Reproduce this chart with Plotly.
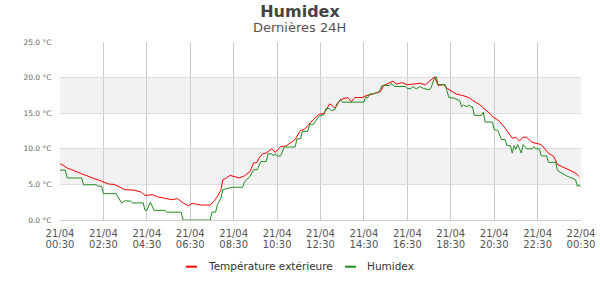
import plotly.graph_objects as go
import pandas as pd

# Température extérieure (time, °C)
temp_times = ["00:30","00:35","00:50","01:00","01:20","01:40","02:00","02:15","02:30","02:45",
              "03:00","03:15","03:30","03:55","04:15","04:25","04:45","05:00","05:20","05:40",
              "05:55","06:10","06:25","06:35","06:45","07:00","07:25","07:35","07:45","07:55",
              "08:00","08:10","08:20","08:35","08:45","09:00","09:15","09:25","09:35","09:40",
              "09:50","10:00","10:15","10:25","10:40","10:55","11:10","11:20","11:30","11:35",
              "11:45","12:00","12:10","12:25","12:40","12:55","13:00","13:10","13:25","13:45",
              "13:55","14:05","14:25","14:35","14:50","15:05","15:15","15:25","15:35","15:50",
              "16:00","16:15","16:30","16:45","17:05","17:20","17:30","17:45","17:55","18:10",
              "18:20","18:30","18:45","19:05","19:20","19:30","19:50","20:10","20:20","20:25",
              "20:45","21:00","21:15","21:20","21:30","21:40","21:50","22:00","22:15","22:30",
              "22:40","23:00","23:15","23:25","23:40","+00:00","+00:15","+00:25"]
temp_values = [7.9,7.8,7.3,7.1,6.7,6.2,5.9,5.65,5.3,5.05,
               5.0,4.6,4.25,4.2,3.9,3.45,3.55,3.25,3.1,2.85,
               3.0,2.4,2.0,2.3,2.25,2.1,2.1,2.6,3.3,4.25,
               5.66,5.9,6.27,6.1,5.9,6.2,6.8,8.0,8.1,8.7,
               9.3,9.4,10.0,9.5,10.3,10.4,11.0,11.3,12.2,12.6,
               12.7,13.6,14.1,14.8,15.0,16.3,16.2,15.7,16.9,17.2,
               16.6,17.2,17.2,17.45,17.6,17.9,18.0,18.9,19.1,19.5,
               19.1,19.3,19.0,19.1,19.2,19.0,19.4,20.1,18.9,19.0,
               18.5,18.2,17.7,17.45,17.2,16.8,16.2,15.3,14.9,14.55,
               13.85,12.9,11.9,11.5,11.6,11.1,11.65,11.6,10.9,10.7,
               10.6,9.4,8.9,7.8,7.45,7.06,6.6,6.1]

# Humidex (time, °C)
hum_times = ["00:30","00:45","00:50","01:30","01:35","02:10","02:15","02:25","02:30","03:05",
             "03:20","03:30","03:45","03:50","04:20","04:25","04:30","04:40","04:50","05:20",
             "05:25","06:05","06:10","07:25","07:30","07:40","07:45","07:55","08:00","08:10",
             "08:25","08:55","09:00","09:15","09:25","09:35","09:45","10:00","10:05","10:15",
             "10:20","10:25","10:30","10:40","10:50","11:20","11:25","11:35","11:40","11:55",
             "12:00","12:10","12:20","12:25","12:40","12:45","12:55","13:00","13:10","13:15",
             "13:25","13:30","14:30","14:35","14:40","14:45","14:55","15:10","15:15","15:20",
             "15:40","15:45","15:55","16:25","16:30","16:40","16:45","16:55","17:05","17:15",
             "17:30","17:35","17:45","17:50","17:55","18:15","18:20","18:25","18:40","18:55",
             "19:00","19:05","19:15","19:20","19:25","19:30","19:35","19:55","20:00","20:05",
             "20:25","20:30","20:40","20:50","21:00","21:05","21:15","21:20","21:25","21:30",
             "21:35","21:45","21:50","22:00","22:15","22:20","22:25","22:35","22:40","22:55",
             "23:00","23:20","23:25","23:35","23:50","+00:15","+00:20","+00:25","+00:28"]
hum_values = [7.0,7.0,5.9,5.9,4.95,4.95,4.75,4.75,3.7,3.7,
              2.4,2.7,2.65,2.4,2.4,1.35,1.35,2.5,1.35,1.35,
              1.1,1.1,0.0,0.0,1.1,1.1,2.15,3.1,4.25,4.4,
              4.6,4.6,5.4,6.1,7.07,7.07,8.2,8.2,9.3,9.3,
              9.0,9.3,9.0,9.0,10.25,10.25,11.4,11.4,12.45,12.45,
              13.5,13.4,14.3,14.55,14.8,15.65,15.65,15.35,15.5,16.3,
              16.9,16.55,16.55,17.35,17.1,17.7,17.7,17.9,18.3,18.9,
              18.9,19.15,18.75,18.75,18.45,18.45,18.75,18.4,18.75,18.45,
              18.3,18.5,19.95,20.1,19.0,19.0,18.05,17.2,17.1,16.75,
              15.9,16.15,15.9,16.15,15.9,15.9,14.7,14.7,15.15,13.75,
              13.75,12.7,12.6,11.3,11.3,10.45,10.45,9.4,10.45,9.9,
              10.6,9.4,10.6,10.0,10.0,10.3,10.0,10.0,9.0,9.0,
              8.1,8.1,6.95,6.6,6.2,5.66,4.7,4.95,4.7]

tick_dates = ["21/04"] * 12 + ["22/04"]
tick_hours = ["00:30", "02:30", "04:30", "06:30", "08:30", "10:30", "12:30",
              "14:30", "16:30", "18:30", "20:30", "22:30", "00:30"]

series_names = ["Température extérieure", "Humidex"]
series_colors = ["#ff0000", "#228b22"]


def to_dt(s):
    if s.startswith("+"):
        return pd.Timestamp("2021-04-22 " + s[1:])
    return pd.Timestamp("2021-04-21 " + s)


tx = [to_dt(s) for s in temp_times]
hx = [to_dt(s) for s in hum_times]
start = pd.Timestamp("2021-04-21 00:30")
end = pd.Timestamp("2021-04-22 00:30")
tick_vals = list(pd.date_range(start, end, freq="2h"))

font = "DejaVu Sans, Verdana, sans-serif"

L, R, T, B = 60.3, 19.3, 42.3, 79.7
W, H = 600, 300
pw, ph = W - L - R, H - T - B


def px_x(px):
    return (px - L) / pw


def px_y(py):
    return (H - B - py) / ph


fig = go.Figure()
fig.add_trace(go.Scatter(x=tx, y=temp_values, mode="lines", name=series_names[0],
                         line=dict(color=series_colors[0], width=1), showlegend=False))
fig.add_trace(go.Scatter(x=hx, y=hum_values, mode="lines", name=series_names[1],
                         line=dict(color=series_colors[1], width=1), showlegend=False))
# invisible carrier for the second label row (hours)
fig.add_trace(go.Scatter(x=[start, end], y=[0, 0], xaxis="x2", mode="lines",
                         line=dict(width=0), opacity=0, showlegend=False, hoverinfo="skip"))

for lo, hi in [(5, 10), (15, 20)]:
    fig.add_shape(type="rect", xref="paper", x0=0, x1=1, yref="y", y0=lo, y1=hi,
                  fillcolor="#f2f2f2", line_width=0, layer="below")

# custom legend
legend_items = [(186, 206), (345, 365)]
annotations = [dict(text="Dernières 24H", xref="paper", yref="paper",
                    x=px_x(W / 2), y=px_y(27.5), xanchor="center", yanchor="middle",
                    showarrow=False, font=dict(size=13, color="#555", family=font))]
for (sx, tx0), name, col in zip(legend_items, series_names, series_colors):
    fig.add_shape(type="line", xref="paper", yref="paper", x0=px_x(sx), x1=px_x(sx + 11),
                  y0=px_y(267), y1=px_y(267), line=dict(color=col, width=2))
    annotations.append(dict(text=name, xref="paper", yref="paper", x=px_x(tx0), y=px_y(266.5),
                            xanchor="left", yanchor="middle", showarrow=False,
                            font=dict(size=10.5, color="#333", family=font)))

fig.update_layout(
    width=W, height=H,
    margin=dict(l=L, r=R, t=T, b=B),
    paper_bgcolor="white", plot_bgcolor="white",
    font=dict(family=font, color="#555"),
    title=dict(text="<b>Humidex</b>", x=0.5, xref="container", xanchor="center",
               y=1 - 11 / H, yref="container", yanchor="middle",
               font=dict(size=16, color="#444", family=font)),
    annotations=annotations,
    showlegend=False,
    xaxis=dict(type="date", range=[start, end], tickvals=tick_vals, ticktext=tick_dates,
               showgrid=True, gridcolor="#cccccc", gridwidth=1, zeroline=False,
               showline=True, linecolor="#cccccc", linewidth=1, automargin=False,
               tickfont=dict(size=10, color="#555"), ticks="", ticklabelstandoff=4),
    xaxis2=dict(type="date", range=[start, end], overlaying="x", anchor="y", side="bottom",
                tickvals=tick_vals, ticktext=tick_hours, showgrid=False, zeroline=False,
                showline=False, automargin=False,
                tickfont=dict(size=10, color="#555"), ticks="", ticklabelstandoff=17),
    yaxis=dict(range=[0, 25], dtick=5, tick0=0, tickformat=".1f", ticksuffix=" °C",
               showgrid=True, gridcolor="#dddddd", gridwidth=1, zeroline=False,
               showline=False, tickfont=dict(size=7.5, color="#666"), automargin=False,
               ticks="outside", ticklen=6, tickcolor="rgba(0,0,0,0)"),
)

fig.write_html("out.html")
